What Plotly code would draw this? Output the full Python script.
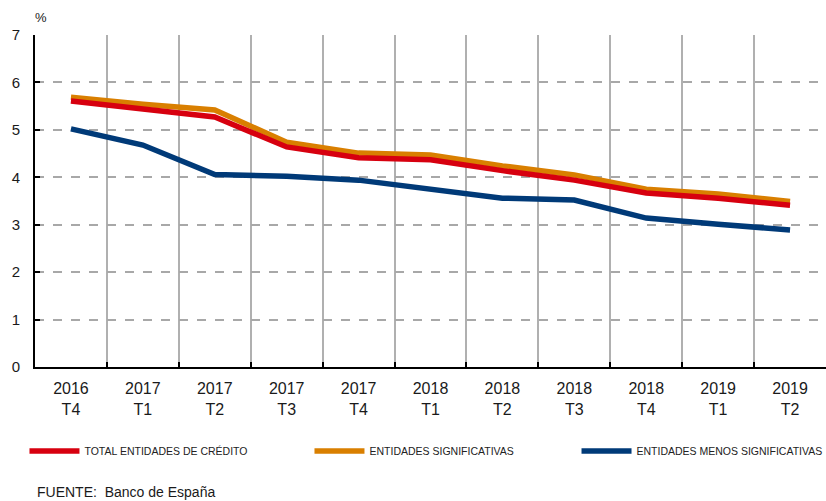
import plotly.graph_objects as go

categories = ["2016<br>T4", "2017<br>T1", "2017<br>T2", "2017<br>T3", "2017<br>T4",
              "2018<br>T1", "2018<br>T2", "2018<br>T3", "2018<br>T4", "2019<br>T1", "2019<br>T2"]
total = [5.61, 5.43, 5.27, 4.64, 4.41, 4.37, 4.14, 3.94, 3.67, 3.56, 3.41]
significativas = [5.69, 5.54, 5.42, 4.74, 4.51, 4.47, 4.24, 4.05, 3.75, 3.65, 3.49]
menos_significativas = [5.02, 4.68, 4.06, 4.02, 3.94, 3.76, 3.56, 3.52, 3.14, 3.01, 2.89]

RED = "#D7000F"
ORANGE = "#D97F00"
BLUE = "#003A78"

fig = go.Figure()
fig.add_trace(go.Scatter(x=categories, y=significativas, mode="lines",
                         name="ENTIDADES SIGNIFICATIVAS", legend="legend2",
                         line=dict(color=ORANGE, width=5.5)))
fig.add_trace(go.Scatter(x=categories, y=total, mode="lines",
                         name="TOTAL ENTIDADES DE CRÉDITO", legend="legend",
                         line=dict(color=RED, width=5.5)))
fig.add_trace(go.Scatter(x=categories, y=menos_significativas, mode="lines",
                         name="ENTIDADES MENOS SIGNIFICATIVAS", legend="legend3",
                         line=dict(color=BLUE, width=5.5)))

leg_common = dict(orientation="h", xanchor="left", y=-0.253, yanchor="middle",
                  font=dict(family="Liberation Sans, sans-serif", size=10.5, color="#222"),
                  itemwidth=50, bgcolor="rgba(0,0,0,0)")

fig.update_layout(
    width=826, height=501,
    margin=dict(l=35, r=0, t=35, b=134, autoexpand=False),
    paper_bgcolor="white", plot_bgcolor="white",
    font=dict(family="Liberation Sans, Arial, sans-serif", size=14, color="#1a1a1a"),
    showlegend=True,
    legend=dict(x=-0.0133, **leg_common),
    legend2=dict(x=0.347, **leg_common),
    legend3=dict(x=0.6846, **leg_common),
    annotations=[
        dict(text="%", xref="paper", yref="paper", x=0.0, y=1.0, yshift=18, xshift=-2,
             xanchor="left", yanchor="middle", showarrow=False, font=dict(size=13)),
        dict(text="FUENTE:  Banco de España", xref="paper", yref="paper", x=0.0, y=0,
             yshift=-125, xanchor="left", yanchor="middle", showarrow=False, font=dict(size=14)),
    ],
)

fig.update_xaxes(type="category", tickson="boundaries", showgrid=True, gridcolor="#B0B0B0",
                 gridwidth=1.5, griddash="solid", showline=True, linecolor="black", linewidth=2,
                 ticks="inside", ticklen=5, tickcolor="black", tickwidth=2,
                 tickfont=dict(size=16),
                 range=[-0.5, 10.5], zeroline=False, automargin=False, ticklabelstandoff=6)
fig.update_yaxes(range=[0, 7], dtick=1, showgrid=True, gridcolor="#A8A8A8", griddash="dash",
                 gridwidth=1.5, showline=True, linecolor="black", linewidth=2,
                 ticks="inside", ticklen=5, tickcolor="black", tickwidth=2,
                 tickfont=dict(size=15),
                 zeroline=False, ticklabelstandoff=10, automargin=False)

fig.write_html("out.html", config={"displayModeBar": False},
               post_script="document.body.style.margin='0';")
